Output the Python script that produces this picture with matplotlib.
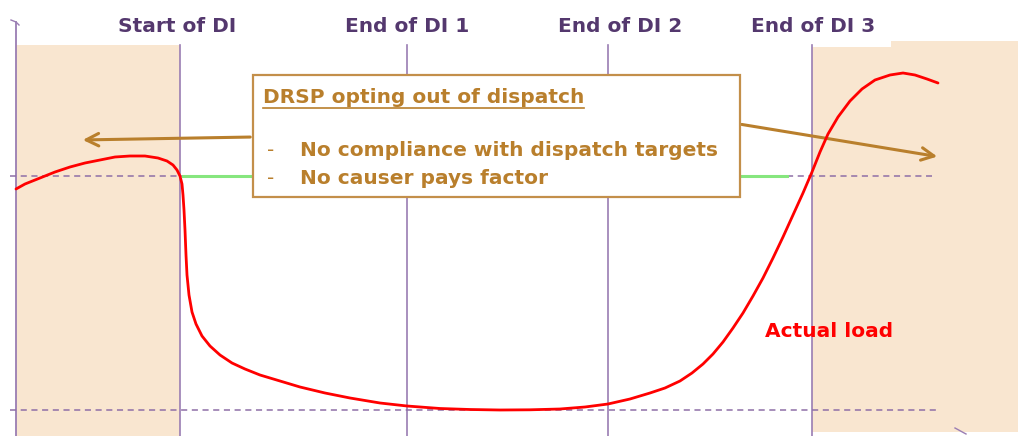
import matplotlib
matplotlib.use("Agg")
import matplotlib.pyplot as plt
from matplotlib.patches import Rectangle

# ---- data (pixel-like diagram coordinates) ----
marker_labels = ["Start of DI", "End of DI 1", "End of DI 2", "End of DI 3"]
marker_x = [180, 407, 608, 812]
label_x = [177, 407, 620, 813]

load_x = [16, 25, 40, 55, 70, 85, 100, 115, 130, 145, 158, 167, 173, 177, 180, 182, 183,
          184, 185, 186, 187, 189, 192, 196, 202, 210, 220, 232, 245, 260, 280, 300, 325,
          350, 380, 407, 440, 470, 500, 530, 560, 585, 608, 630, 650, 665, 680, 692, 703,
          713, 723, 733, 743, 753, 763, 773, 783, 793, 803, 812, 820, 828, 838, 850, 862,
          875, 890, 903, 915, 927, 938]
load_y = [189, 184, 178, 172, 167, 163, 160, 157, 156, 156, 158, 161, 165, 170, 176, 184, 195,
          210, 230, 255, 275, 295, 312, 324, 336, 346, 355, 363, 369, 375, 381, 387, 393,
          398, 403, 406, 408.5, 409.5, 410, 409.8, 409, 407, 404, 399, 393, 388, 381, 373, 364,
          354, 342, 328, 313, 296, 278, 258, 237, 215, 193, 172, 152, 134, 117, 101, 89,
          80, 75, 73, 75, 79, 83]

baseline_level = 176
target_level = 410

box_title = "DRSP opting out of dispatch"
box_items = ["No compliance with dispatch targets", "No causer pays factor"]
load_label = "Actual load"

# ---- styles ----
PURPLE = "#9a7db3"
DASH = "#8e6fa7"
SHADE = "#f9e6d0"
BROWN = "#b97f2c"
BOXEDGE = "#c38f4a"
LABEL = "#54386e"
FS = 14.5

fig = plt.figure(figsize=(10.18, 4.36), dpi=100)
ax = fig.add_axes([0, 0, 1, 1])
ax.set_xlim(0, 1018)
ax.set_ylim(436, 0)
ax.axis("off")

# shaded regions
ax.add_patch(Rectangle((16, 45), 164, 391, facecolor=SHADE, edgecolor="none", zorder=0))
ax.add_patch(Rectangle((812, 47), 206, 385, facecolor=SHADE, edgecolor="none", zorder=0))
ax.add_patch(Rectangle((891, 41), 127, 8, facecolor=SHADE, edgecolor="none", zorder=0))

# vertical lines
ax.plot([16, 16], [22, 436], color=PURPLE, lw=1.3, zorder=2)
ax.plot([11, 16, 19], [20, 22, 25], color=PURPLE, lw=1.0, zorder=2)
for x in marker_x:
    ax.plot([x, x], [45, 436], color=PURPLE, lw=1.2, zorder=2)
ax.plot([955, 966], [428, 434], color=PURPLE, lw=1.0, zorder=2)

# dashed levels
ax.plot([10, 183], [baseline_level] * 2, color=DASH, lw=1.1, ls=(0, (4, 3)), zorder=2)
ax.plot([787, 932], [baseline_level] * 2, color=DASH, lw=1.1, ls=(0, (4, 3)), zorder=2)
ax.plot([10, 940], [target_level] * 2, color=DASH, lw=1.1, ls=(0, (4, 3)), zorder=2)

# green target segments
ax.plot([183, 255], [baseline_level] * 2, color="#86e67e", lw=2.2, zorder=2)
ax.plot([740, 787], [baseline_level] * 2, color="#86e67e", lw=2.2, zorder=2)

# labels
for lx, lab in zip(label_x, marker_labels):
    ax.text(lx, 27, lab, ha="center", va="center", fontsize=FS, fontweight="bold",
            color=LABEL, bbox=dict(facecolor="white", edgecolor="none", pad=2), zorder=3)

# actual load curve
ax.plot(load_x, load_y, color="#ff0000", lw=2.0, zorder=5,
        solid_capstyle="round", solid_joinstyle="round")
ax.text(829, 331, load_label, ha="center", va="center", fontsize=FS,
        fontweight="bold", color="#ff0000", zorder=6)

# arrows
ax.annotate("", xy=(80, 140), xytext=(253, 137),
            arrowprops=dict(arrowstyle="->,head_length=0.9,head_width=0.45", color=BROWN, lw=2.2),
            zorder=4)
ax.annotate("", xy=(940, 157), xytext=(739, 124),
            arrowprops=dict(arrowstyle="->,head_length=0.9,head_width=0.45", color=BROWN, lw=2.2),
            zorder=4)

# text box
ax.add_patch(Rectangle((253, 75), 487, 122, facecolor="white", edgecolor=BOXEDGE, lw=1.6, zorder=6))
t = ax.text(263, 97, box_title, ha="left", va="center", fontsize=FS, fontweight="bold",
            color=BROWN, zorder=7)
fig.canvas.draw()
bb = t.get_window_extent().transformed(ax.transData.inverted())
ax.plot([bb.x0, bb.x1], [108, 108], color=BROWN, lw=1.2, zorder=7)
for i, item in enumerate(box_items):
    y = 150 + 28 * i
    ax.text(267, y, "-", ha="left", va="center", fontsize=FS, color=BROWN, zorder=7)
    ax.text(300, y, item, ha="left", va="center", fontsize=FS, fontweight="bold",
            color=BROWN, zorder=7)

fig.savefig("out.png", dpi=100)
